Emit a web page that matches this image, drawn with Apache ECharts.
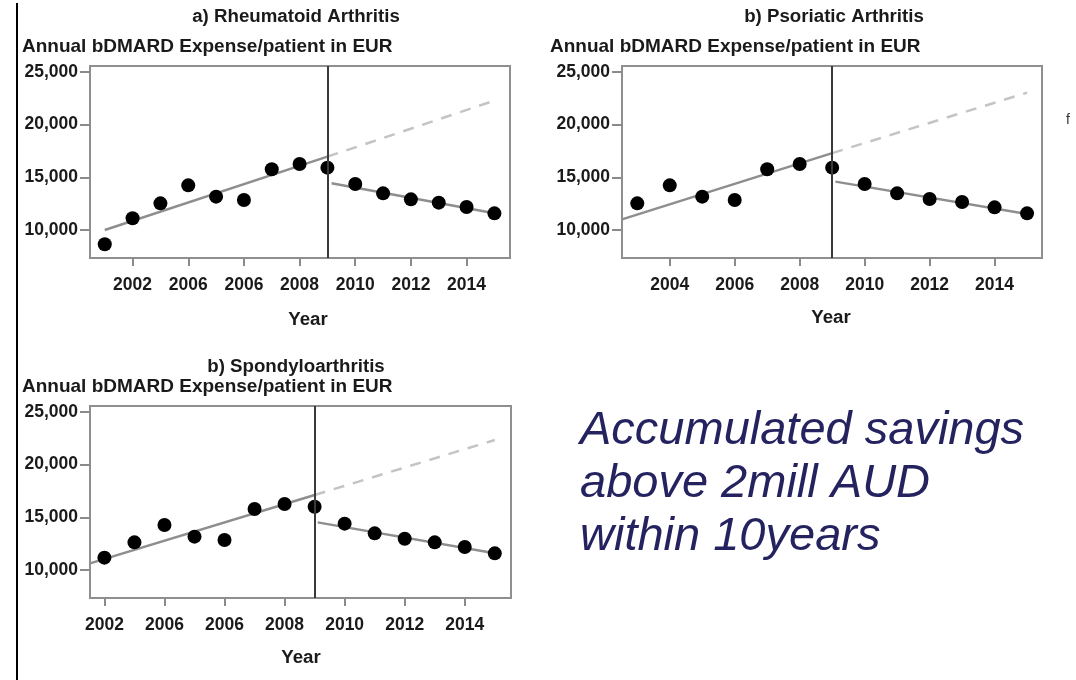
<!DOCTYPE html>
<html>
<head>
<meta charset="utf-8">
<script src="https://cdn.jsdelivr.net/npm/echarts@6/dist/echarts.min.js"></script>
<style>
html,body{margin:0;padding:0;background:#fff;}
#chart{width:1076px;height:680px;}
</style>
</head>
<body>
<div id="chart"></div>
<script>
// ---- Data ----
const yearsA = [2001,2002,2003,2004,2005,2006,2007,2008,2009,2010,2011,2012,2013,2014,2015];
const valuesA = [8640,11110,12530,14240,13165,12850,15760,16270,15920,14370,13480,12910,12595,12180,11580];
const trendPreA = [[2001,10000],[2009,16960]];
const trendFcA = [[2009,16960],[2015,22280]];
const trendPostA = [[2009.15,14430],[2015,11580]];
const tickPosA = [2002,2004,2006,2008,2010,2012,2014];
const tickLabA = ["2002","2006","2006","2008","2010","2012","2014"];

const yearsB = [2003,2004,2005,2006,2007,2008,2009,2010,2011,2012,2013,2014,2015];
const valuesB = [12530,14240,13165,12850,15760,16270,15920,14370,13480,12940,12660,12150,11580];
const trendPreB = [[2002.53,11010],[2009,17300]];
const trendFcB = [[2009,17300],[2015,23040]];
const trendPostB = [[2009.1,14590],[2015,11520]];
const tickPosB = [2004,2006,2008,2010,2012,2014];
const tickLabB = ["2004","2006","2008","2010","2012","2014"];

const yearsC = [2002,2003,2004,2005,2006,2007,2008,2009,2010,2011,2012,2013,2014,2015];
const valuesC = [11170,12625,14270,13165,12850,15790,16270,16010,14400,13480,12970,12625,12180,11580];
const trendPreC = [[2001.52,10630],[2009,17120]];
const trendFcC = [[2009,17120],[2015,22340]];
const trendPostC = [[2009.1,14520],[2015,11580]];
const tickPosC = [2002,2004,2006,2008,2010,2012,2014];
const tickLabC = ["2002","2006","2006","2008","2010","2012","2014"];

const yTicks = [10000,15000,20000,25000];
const interventionYear = 2009;

const titles = ["a) Rheumatoid Arthritis","b) Psoriatic Arthritis","b) Spondyloarthritis"];
const yName = "Annual bDMARD Expense/patient in EUR";
const xName = "Year";
const bigText = ["Accumulated savings","above 2mill AUD","within 10years"];

// ---- Chart ----
const FONT = "'Liberation Sans', Arial, sans-serif";
const chart = echarts.init(document.getElementById('chart'), null, {renderer:'canvas'});

const grids = [
  {left:90, top:66, width:420, height:192},
  {left:622, top:66, width:420, height:192},
  {left:90, top:406, width:421, height:192}
];
const xRanges = [[2000.47,2015.56],[2002.53,2015.46],[2001.52,2015.54]];
const tickPos = [tickPosA, tickPosB, tickPosC];
const tickLab = [tickLabA, tickLabB, tickLabC];
const panels = [
  {years:yearsA, values:valuesA, pre:trendPreA, fc:trendFcA, post:trendPostA},
  {years:yearsB, values:valuesB, pre:trendPreB, fc:trendFcB, post:trendPostB},
  {years:yearsC, values:valuesC, pre:trendPreC, fc:trendFcC, post:trendPostC}
];

const labelStyle = {color:'#1a1a1a', fontWeight:'bold', fontFamily:FONT};

const xAxes = grids.map((g,i)=>({
  type:'value', gridIndex:i, min:xRanges[i][0], max:xRanges[i][1],
  axisLine:{show:false},
  splitLine:{show:false},
  axisTick:{show:true, length:8, customValues:tickPos[i], lineStyle:{color:'#8a8a8a', width:2}},
  axisLabel:Object.assign({customValues:tickPos[i], margin:18, fontSize:17.5,
    formatter:(v)=>{const k=tickPos[i].indexOf(Math.round(v)); return k>=0?tickLab[i][k]:'';}}, labelStyle)
}));
const yAxes = grids.map((g,i)=>({
  type:'value', gridIndex:i, min:7340, max:25570,
  axisLine:{show:false},
  splitLine:{show:false},
  axisTick:{show:true, length:10, customValues:yTicks, lineStyle:{color:'#8a8a8a', width:2}},
  axisLabel:Object.assign({customValues:yTicks, margin:12, fontSize:17.5,
    formatter:(v)=>v.toLocaleString('en-US')}, labelStyle)
}));

const series = [];
panels.forEach((p,i)=>{
  series.push({type:'line', xAxisIndex:i, yAxisIndex:i, data:p.fc, symbol:'none', silent:true,
    lineStyle:{color:'#c4c4c4', width:2.5, type:[11,9]}, z:2});
  series.push({type:'line', xAxisIndex:i, yAxisIndex:i, data:p.pre, symbol:'none', silent:true,
    lineStyle:{color:'#8e8e8e', width:2.5}, z:2});
  series.push({type:'line', xAxisIndex:i, yAxisIndex:i, data:p.post, symbol:'none', silent:true,
    lineStyle:{color:'#8e8e8e', width:2.5}, z:2});
  series.push({type:'scatter', xAxisIndex:i, yAxisIndex:i, symbolSize:14, z:4,
    itemStyle:{color:'#000', opacity:1},
    data:p.years.map((y,k)=>[y,p.values[k]]),
    markLine:{silent:true, symbol:'none', label:{show:false},
      lineStyle:{color:'#3a3a3a', width:2, type:'solid'},
      data:[{xAxis:interventionYear}]}
  });
});

const txt = (x,y,text,extra)=>({type:'text', x:x, y:y, silent:true,
  style:Object.assign({text:text, fill:'#1a1a1a', font:'bold 18.7px '+FONT, textVerticalAlign:'middle'}, extra||{})});

const graphics = [
  {type:'line', silent:true, shape:{x1:17,y1:3,x2:17,y2:680}, style:{stroke:'#000', lineWidth:2}},
  txt(296,17,titles[0],{textAlign:'center'}),
  txt(834,17,titles[1],{textAlign:'center'}),
  txt(296,367,titles[2],{textAlign:'center'}),
  txt(22,47,yName,{font:'bold 19px '+FONT}),
  txt(550,47,yName,{font:'bold 19px '+FONT}),
  txt(22,387,yName,{font:'bold 19px '+FONT}),
  txt(308,320,xName,{textAlign:'center'}),
  txt(831,318,xName,{textAlign:'center'}),
  txt(301,658,xName,{textAlign:'center'}),
  txt(1066,120,'f',{font:'14px '+FONT, fill:'#333'}),
  txt(580,431,bigText[0],{font:'italic 47px '+FONT, fill:'#25235f'}),
  txt(580,484,bigText[1],{font:'italic 47px '+FONT, fill:'#25235f'}),
  txt(580,537,bigText[2],{font:'italic 47px '+FONT, fill:'#25235f'})
];

chart.setOption({
  animation:false,
  grid:grids.map(g=>Object.assign({show:true, borderColor:'#8f8f8f', borderWidth:2, backgroundColor:'transparent'}, g)),
  xAxis:xAxes,
  yAxis:yAxes,
  series:series,
  graphic:graphics
});
</script>
</body>
</html>
